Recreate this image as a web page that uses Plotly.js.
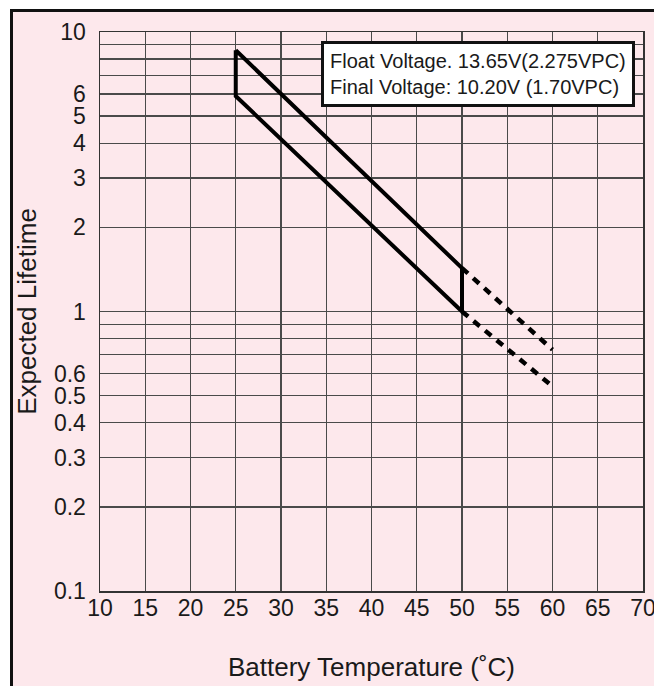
<!DOCTYPE html>
<html>
<head>
<meta charset="utf-8">
<script src="https://cdn.plot.ly/plotly-3.0.1.min.js"></script>
<style>
  html, body { margin: 0; padding: 0; background: #ffffff; width: 654px; height: 686px; overflow: hidden; }
  #frame { position: absolute; left: 10px; top: 9px; width: 700px; height: 700px;
           border-left: 3px solid #111; border-top: 3px solid #111; background: #fde8ec; }
  #chart { position: absolute; left: 0; top: 0; width: 654px; height: 686px; }
</style>
</head>
<body>
<div id="frame"></div>
<div id="chart"></div>
<script>
// Band of expected lifetime (years) vs battery temperature (°C)
const bandTemp = [25, 50, 50, 25, 25];
const bandLife = [8.6, 1.43, 1.0, 5.9, 8.6];
// Dashed extrapolations beyond 50 °C
const extTemp = [50, 60];
const extUpperLife = [1.43, 0.73];
const extLowerLife = [1.0, 0.54];

const xTicks = [10, 15, 20, 25, 30, 35, 40, 45, 50, 55, 60, 65, 70];
const yGridVals = [0.1, 0.2, 0.3, 0.4, 0.5, 0.6, 0.7, 0.8, 0.9, 1, 2, 3, 4, 5, 6, 7, 8, 9, 10];
const yGridText = ['0.1', '0.2', '0.3', '0.4', '0.5', '0.6', '', '', '', '1', '2', '3', '4', '5', '6', '', '', '', '10'];

const legendLines = ['Float Voltage. 13.65V(2.275VPC)', 'Final Voltage: 10.20V (1.70VPC)'];

const FONT = 'Liberation Sans, Arial, sans-serif';
const TXT = '#1a1a1a';
const GRID = '#4a4a4a';

const traces = [
  { x: bandTemp, y: bandLife, mode: 'lines', line: { color: '#000', width: 4 }, hoverinfo: 'skip', showlegend: false },
  { x: extTemp, y: extUpperLife, mode: 'lines', line: { color: '#000', width: 4.5, dash: '8px,7px' }, hoverinfo: 'skip', showlegend: false },
  { x: extTemp, y: extLowerLife, mode: 'lines', line: { color: '#000', width: 4.5, dash: '8px,7px' }, hoverinfo: 'skip', showlegend: false }
];

const layout = {
  width: 654, height: 686,
  margin: { l: 100, r: 11, t: 32, b: 95 },
  paper_bgcolor: 'rgba(0,0,0,0)',
  plot_bgcolor: 'rgba(0,0,0,0)',
  font: { family: FONT, color: TXT },
  showlegend: false,
  xaxis: {
    range: [10, 70], tickmode: 'array', tickvals: xTicks, ticktext: xTicks.map(String),
    showgrid: true, gridcolor: GRID, gridwidth: 1.3, zeroline: false,
    showline: true, linecolor: '#333', linewidth: 1.5, mirror: true,
    ticks: '', ticklabelstandoff: -4, ticklabeloverflow: 'allow',
    tickfont: { family: FONT, size: 23, color: TXT },
    title: { text: 'Battery Temperature (˚C)', font: { family: FONT, size: 26, color: TXT }, standoff: 37 }
  },
  yaxis: {
    type: 'log', range: [-1, 1], tickmode: 'array', tickvals: yGridVals, ticktext: yGridText,
    showgrid: true, gridcolor: GRID, gridwidth: 1.3, zeroline: false,
    showline: true, linecolor: '#333', linewidth: 1.5, mirror: true,
    ticks: '', ticklabelstandoff: 8,
    tickfont: { family: FONT, size: 23, color: TXT },
    title: { text: 'Expected Lifetime', font: { family: FONT, size: 26, color: TXT }, standoff: 10 }
  },
  annotations: [{
    xref: 'paper', yref: 'paper', x: 0.985, y: 0.984, xanchor: 'right', yanchor: 'top',
    text: legendLines.join('<br>'), align: 'left', showarrow: false,
    font: { family: FONT, size: 20, color: TXT },
    bgcolor: '#ffffff', bordercolor: '#111', borderwidth: 3, borderpad: 6
  }]
};

Plotly.newPlot('chart', traces, layout, { staticPlot: true, displayModeBar: false });
</script>
</body>
</html>
